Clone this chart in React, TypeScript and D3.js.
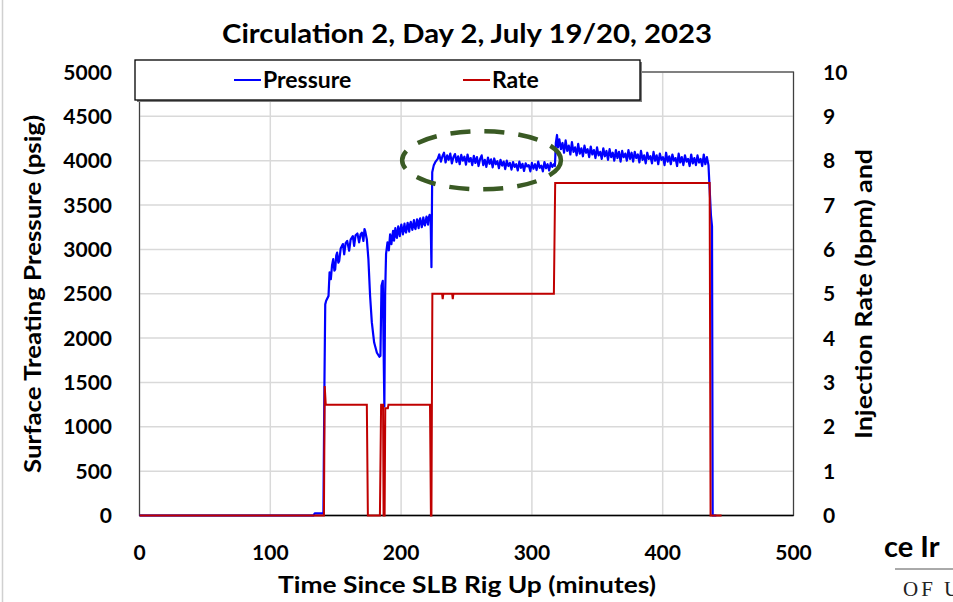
import React from "react";
import * as d3 from "d3";

// ---------------- DATA ----------------
const title = "Circulation 2, Day 2, July 19/20, 2023";
const xTitle = "Time Since SLB Rig Up (minutes)";
const yLeftTitle = "Surface Treating Pressure (psig)";
const yRightTitle = "Injection Rate (bpm) and";
const xTicks = [0, 100, 200, 300, 400, 500];
const yLeftTicks = [0, 500, 1000, 1500, 2000, 2500, 3000, 3500, 4000, 4500, 5000];
const yRightTicks = [0, 1, 2, 3, 4, 5, 6, 7, 8, 9, 10];
const legendNames = ["Pressure", "Rate"];

// pressure (minutes, psig) – start-up, first and second pump periods
const pressureStart: [number, number][] = [
  [0, 0], [133, 0], [134, 25], [140.6, 25], [141.4, 1500], [142.0, 2380], [142.7, 2420],
  [144.5, 2475], [145.3, 2740], [146.3, 2665], [147.2, 2820], [148.1, 2890], [149.0, 2760],
  [149.6, 2775], [150.4, 2930], [151.1, 2965], [152.0, 2850], [152.7, 2870], [153.8, 3010],
  [155.5, 3060], [156.5, 2945], [157.6, 3070], [158.8, 3095], [160.3, 2985], [161.4, 3110],
  [163.1, 3150], [164.1, 3040], [165.2, 3160], [166.6, 3180], [167.9, 3080], [169.0, 3170],
  [170.0, 3190], [171.2, 3095], [172.0, 3230], [172.5, 3210], [173.8, 3115], [175.0, 2890],
  [176.3, 2475], [177.6, 2180], [179.4, 1950], [181.5, 1835], [183.4, 1790], [184.2, 1800],
  [185.0, 2590], [186.0, 2645], [186.6, 1900], [187.2, 1230], [187.8, 2500], [188.5, 2950],
  [189.6, 3080], [190.6, 2990], [191.6, 3170], [192.6, 3060], [193.3, 3150], [193.9, 3210],
  [194.6, 3100], [195.6, 3240], [196.2, 3150], [196.8, 3130], [197.8, 3260], [199.0, 3150],
  [199.6, 3230], [200.2, 3280], [201.4, 3170], [202.6, 3290], [203.2, 3210], [203.8, 3190],
  [205.0, 3300], [206.2, 3200], [206.8, 3280], [207.4, 3310], [208.6, 3220], [209.8, 3330],
  [210.4, 3250], [211.0, 3230], [212.2, 3340], [213.4, 3240], [214.0, 3320], [214.6, 3350],
  [215.8, 3250], [217.0, 3360], [217.6, 3290], [218.2, 3270], [219.4, 3370], [220.6, 3280],
  [221.2, 3360], [221.8, 3390], [222.6, 3330], [223.2, 2800], [223.8, 3870], [225.0, 3950],
  [226.4, 3990],
];
// 5 bpm plateau, sampled every 1.2 min from 228 min
const plateau1Start = 228;
const plateau1Step = 1.2;
const plateau1Values = [
  4020, 4070, 3990, 4050, 4090, 3980, 4060, 4010, 4080, 3970, 4040, 4075, 3985, 4050, 3960,
  4065, 4000, 4045, 3955, 4070, 3990, 4030, 3950, 4055, 3975, 4040, 3940, 4020, 4060, 3950,
  4010, 3930, 4035, 3965, 4015, 3925, 4025, 3960, 3995, 3915, 4010, 3945, 3990, 3905, 4000,
  3940, 3975, 3900, 3985, 3930, 3960, 3890, 3990, 3920, 3965, 3885, 3970, 3935, 3950, 3880,
  3975, 3910, 3960, 3895, 3990, 3920, 3945, 3880, 3985, 3915, 3960, 3890, 3975, 3930,
];
const pressureStep: [number, number][] = [
  [316.8, 3960], [317.6, 3940], [318.3, 4200], [319.2, 4290], [320.0, 4150],
];
// 7.5 bpm plateau, sampled every 1.2 min from 321 min
const plateau2Start = 321;
const plateau2Step = 1.2;
const plateau2Values = [
  4240, 4130, 4200, 4090, 4230, 4110, 4170, 4070, 4210, 4100, 4150, 4060, 4190, 4080, 4140,
  4050, 4170, 4090, 4130, 4040, 4160, 4070, 4120, 4030, 4150, 4060, 4100, 4020, 4140, 4050,
  4110, 4010, 4130, 4040, 4090, 4000, 4120, 4030, 4100, 3990, 4110, 4040, 4080, 4000, 4120,
  4020, 4090, 3990, 4100, 4030, 4070, 3980, 4110, 4010, 4060, 3970, 4090, 4020, 4050, 3970,
  4100, 4000, 4060, 3960, 4080, 4010, 4040, 3950, 4090, 3990, 4050, 3960, 4070, 4000, 4030,
  3940, 4080, 3980, 4040, 3950, 4060, 3990, 4020, 3940, 4070, 3970, 4030, 3950, 4060, 3980,
  4020, 3940, 4070, 3960, 4040, 3950,
];
const pressureEnd: [number, number][] = [
  [435.9, 3680], [436.9, 3380], [437.7, 3260], [438.2, 0], [441, 0],
];

// injection rate (minutes, bpm)
const rateData: [number, number][] = [
  [0, 0], [141.0, 0], [141.6, 2.92], [142.4, 2.5], [173.8, 2.5], [174.6, 0], [183.8, 0],
  [184.7, 2.5], [186.2, 2.5], [186.6, 0], [187.4, 0], [187.9, 2.42], [189.9, 2.42],
  [190.3, 2.5], [222.1, 2.5], [222.8, 0], [223.2, 0], [223.9, 5.0], [231.3, 5.0],
  [231.8, 4.88], [232.3, 5.0], [239.0, 5.0], [239.5, 4.88], [240.0, 5.0], [316.8, 5.0],
  [317.8, 7.5], [435.9, 7.5], [436.6, 0], [445, 0],
];

// annotation ellipse (data units: center minutes, center psig, half-width minutes, half-height psig)
const ellipseCenter = [261.5, 4005];
const ellipseRadii = [60.7, 328];

// ---------------- CHART ----------------
const W = 953;
const H = 602;
const FONT = "Lato, 'Open Sans', sans-serif";

export default function App() {
  const x = d3.scaleLinear().domain([0, 500]).range([139.5, 793.5]);
  const yL = d3.scaleLinear().domain([0, 5000]).range([515.5, 72]);
  const yR = d3.scaleLinear().domain([0, 10]).range([515.5, 72]);

  const pressure: [number, number][] = [
    ...pressureStart,
    ...plateau1Values.map((v, i) => [plateau1Start + i * plateau1Step, v] as [number, number]),
    ...pressureStep,
    ...plateau2Values.map((v, i) => [plateau2Start + i * plateau2Step, v] as [number, number]),
    ...pressureEnd,
  ];

  const pLine = d3.line<[number, number]>().x((d) => x(d[0])).y((d) => yL(d[1]));
  const rLine = d3.line<[number, number]>().x((d) => x(d[0])).y((d) => yR(d[1]));

  const [x0, x1] = x.range();
  const yTop = yL(5000);
  const yBot = yL(0);

  const ecx = x(ellipseCenter[0]);
  const ecy = yL(ellipseCenter[1]);
  const erx = x(ellipseCenter[0] + ellipseRadii[0]) - ecx;
  const ery = ecy - yL(ellipseCenter[1] + ellipseRadii[1]);

  return (
    <svg
      width={W}
      height={H}
      viewBox={`0 0 ${W} ${H}`}
      style={{ position: "absolute", left: 0, top: 0, background: "#fff" }}
      fontFamily={FONT}
    >
      <rect x={0} y={0} width={W} height={H} fill="#fff" />
      <line x1={2.5} x2={2.5} y1={0} y2={H} stroke="#d0d0d0" strokeWidth={1.5} />

      {/* title */}
      <text x={467} y={43} textAnchor="middle" fontSize={27} fontWeight={700} fill="#000"
        textLength={490} lengthAdjust="spacingAndGlyphs">{title}</text>

      {/* gridlines */}
      {yLeftTicks.map((t) => (
        <line key={"gy" + t} x1={x0} x2={x1} y1={yL(t)} y2={yL(t)} stroke="#d9d9d9" strokeWidth={1.5} />
      ))}
      {xTicks.map((t) => (
        <line key={"gx" + t} x1={x(t)} x2={x(t)} y1={yTop} y2={yBot} stroke="#d9d9d9" strokeWidth={1.5} />
      ))}

      {/* plot frame */}
      <rect x={x0} y={yTop} width={x1 - x0} height={yBot - yTop} fill="none" stroke="#404040" strokeWidth={1.2} />
      <line x1={x0} x2={x1} y1={yBot} y2={yBot} stroke="#000" strokeWidth={1.5} />

      {/* series */}
      <path d={pLine(pressure) || ""} fill="none" stroke="#0000ff" strokeWidth={2.2} strokeLinejoin="round" />
      <path d={rLine(rateData) || ""} fill="none" stroke="#c00000" strokeWidth={2} strokeLinejoin="miter" />

      {/* annotation ellipse */}
      <ellipse cx={ecx} cy={ecy} rx={erx} ry={ery} fill="none" stroke="#3a5a24" strokeWidth={4.5}
        strokeDasharray="20 14" />

      {/* left ticks */}
      {yLeftTicks.map((t) => (
        <text key={"ly" + t} x={112} y={yL(t)} dy="0.36em" textAnchor="end" fontSize={21} fontWeight={700}>{t}</text>
      ))}
      {/* right ticks */}
      {yRightTicks.map((t) => (
        <text key={"ry" + t} x={823} y={yR(t)} dy="0.36em" textAnchor="start" fontSize={21} fontWeight={700}>{t}</text>
      ))}
      {/* x ticks */}
      {xTicks.map((t) => (
        <text key={"tx" + t} x={x(t)} y={552} dy="0.36em" textAnchor="middle" fontSize={21} fontWeight={700}>{t}</text>
      ))}

      {/* axis titles */}
      <text x={467} y={593} textAnchor="middle" fontSize={23} fontWeight={700}
        textLength={378} lengthAdjust="spacingAndGlyphs">{xTitle}</text>
      <text transform="translate(41,294) rotate(-90)" textAnchor="middle" fontSize={23} fontWeight={700}
        textLength={358} lengthAdjust="spacingAndGlyphs">{yLeftTitle}</text>
      <text transform="translate(872,294) rotate(-90)" textAnchor="middle" fontSize={23} fontWeight={700}
        textLength={290} lengthAdjust="spacingAndGlyphs">{yRightTitle}</text>

      {/* legend */}
      <rect x={137} y={62} width={505} height={40} fill="#7f7f7f" />
      <rect x={135} y={60} width={505} height={40} fill="#fff" stroke="#000" strokeWidth={1.3} />
      <line x1={234} x2={261} y1={80} y2={80} stroke="#0000ff" strokeWidth={2} />
      <text x={263} y={80} dy="0.36em" fontSize={23} fontWeight={700}>{legendNames[0]}</text>
      <line x1={463} x2={490} y1={80} y2={80} stroke="#c00000" strokeWidth={2} />
      <text x={492} y={80} dy="0.36em" fontSize={23} fontWeight={700}>{legendNames[1]}</text>

      {/* cropped logo fragment (cut by the picture's right edge, as in the reference) */}
      <text x={884} y={557} fontSize={29} fontWeight={700}>ce Ir</text>
      <line x1={895} x2={W} y1={569} y2={569} stroke="#555" strokeWidth={1} />
      <text x={903} y={596} fontSize={21} fontFamily="'Liberation Serif', 'DejaVu Serif', serif"
        letterSpacing={3} fill="#222">OF U</text>
    </svg>
  );
}
